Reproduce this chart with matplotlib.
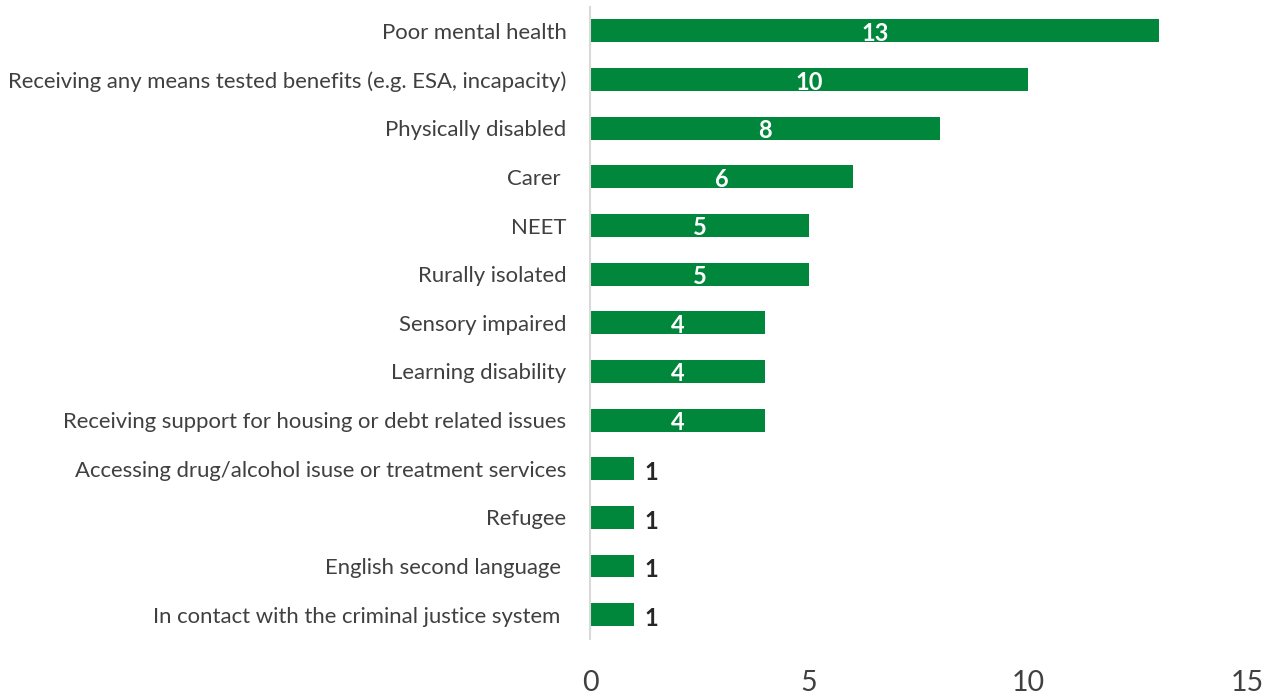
import matplotlib.pyplot as plt

plt.rcParams["font.family"] = "Lato"

categories = [
    "Poor mental health",
    "Receiving any means tested benefits (e.g. ESA, incapacity)",
    "Physically disabled",
    "Carer ",
    "NEET",
    "Rurally isolated",
    "Sensory impaired",
    "Learning disability",
    "Receiving support for housing or debt related issues",
    "Accessing drug/alcohol isuse or treatment services",
    "Refugee",
    "English second language ",
    "In contact with the criminal justice system ",
]
counts = [13, 10, 8, 6, 5, 5, 4, 4, 4, 1, 1, 1, 1]
xticks = [0, 5, 10, 15]

green = "#00873c"

fig = plt.figure(figsize=(12.81, 6.95), dpi=100)
ax = fig.add_axes([0.4606, 0.0806, 0.5129, 0.9099])

ypos = list(range(len(categories)))
ax.barh(ypos, counts, height=0.47, color=green)

# small counts don't fit inside the bar, so put them just past the end
for y, v in zip(ypos, counts):
    if v > 2:
        ax.text(v / 2, y + 0.05, str(v), ha="center", va="center",
                color="white", fontsize=17, fontweight="bold")
    else:
        ax.text(v + 0.4, y + 0.08, str(v), ha="center", va="center",
                color="#262626", fontsize=17, fontweight="bold")

ax.set_xlim(0, 15)
ax.set_ylim(len(categories) - 0.5, -0.5)
ax.set_yticks(ypos)
ax.set_yticklabels(categories, fontsize=15.9, color="#404040")
ax.set_xticks(xticks)
ax.set_xticklabels([str(t) for t in xticks], fontsize=20.5, color="#404040")
ax.tick_params(axis="both", length=0)
ax.tick_params(axis="y", pad=17)
ax.tick_params(axis="x", pad=22)

for side in ["top", "right", "bottom"]:
    ax.spines[side].set_visible(False)
ax.spines["left"].set_color("#d9d9d9")
ax.spines["left"].set_linewidth(1.5)

fig.savefig("out.png", dpi=100)
